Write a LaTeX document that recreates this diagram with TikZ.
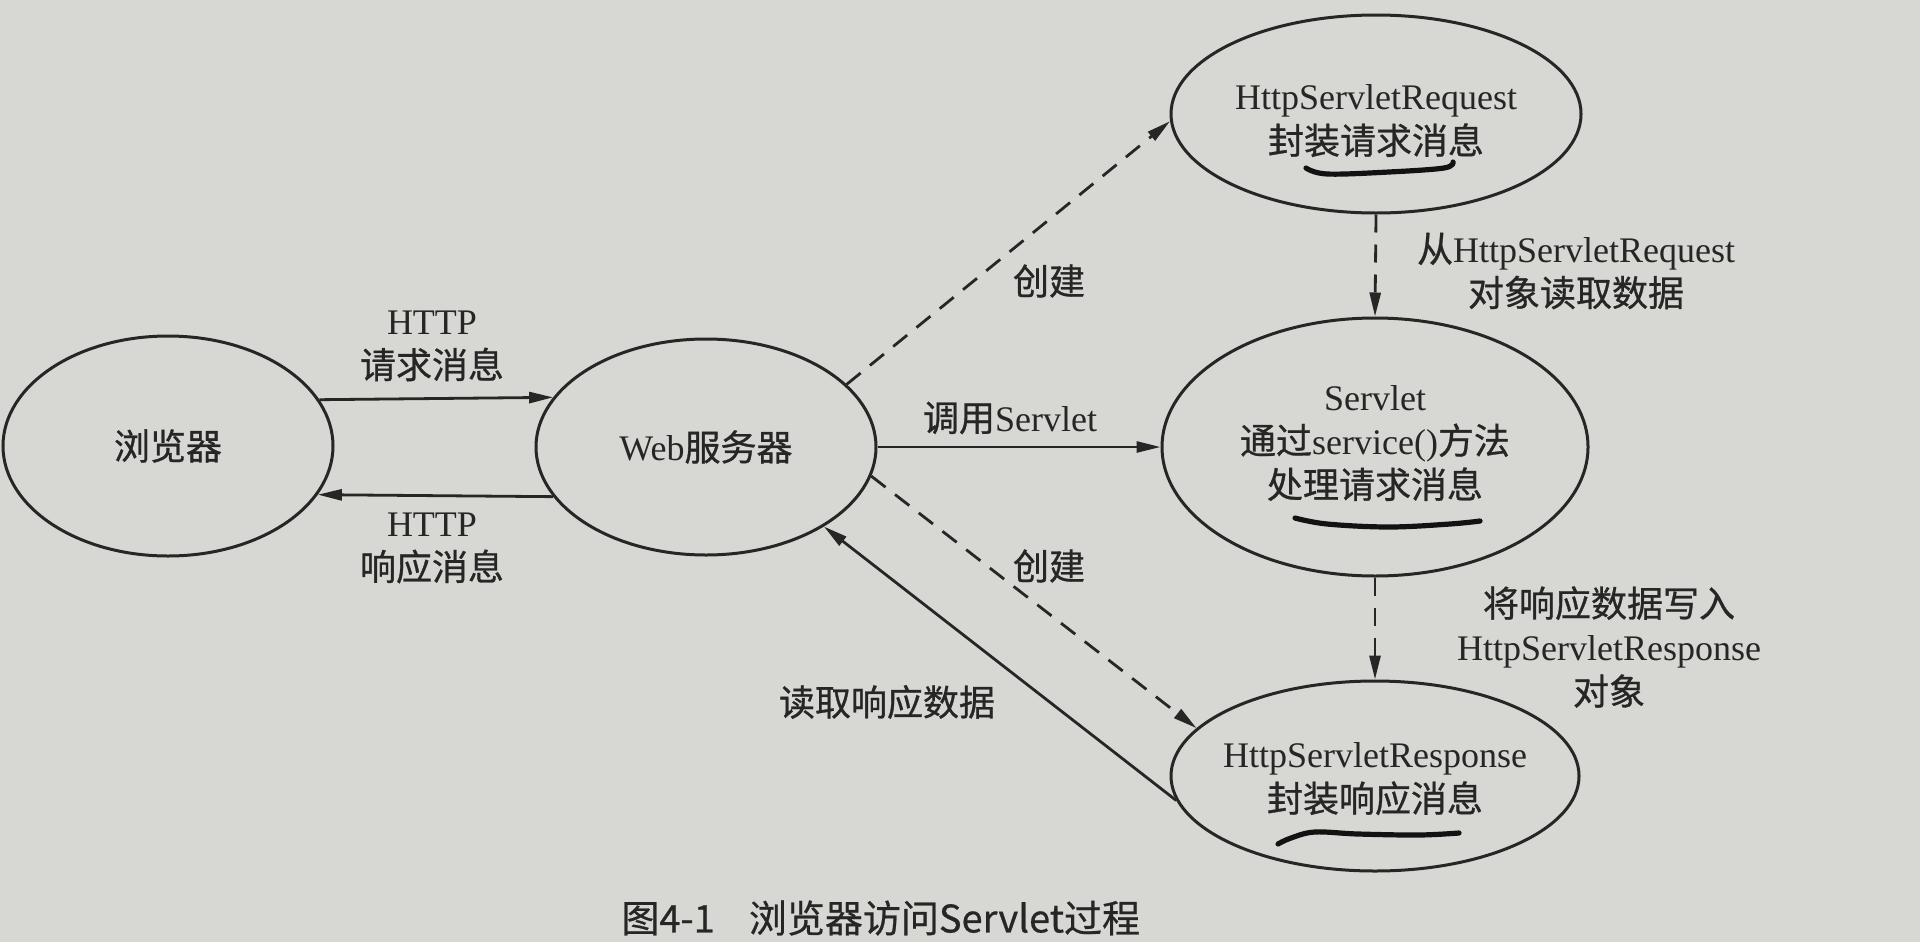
\documentclass[tikz,border=0pt]{standalone}
\usepackage{fontspec}
\setmainfont{Liberation Serif}
\newfontfamily\cjkfont[FakeBold=0.8]{Noto Sans CJK SC}
\newfontfamily\capfont[FakeBold=0.6]{Noto Sans CJK SC}
\newcommand\zh[1]{{\cjkfont #1}}
\usetikzlibrary{arrows.meta,shapes.geometric}
\definecolor{paper}{RGB}{215,215,211}
\definecolor{ink}{RGB}{38,38,38}
\definecolor{pen}{RGB}{18,18,18}
\begin{document}
\begin{tikzpicture}[x=0.5pt,y=-0.5pt,
  ell/.style={ellipse, draw=ink, line width=1.5pt, inner sep=0pt, align=center,
    text=ink, font=\fontsize{18pt}{22pt}\selectfont},
  lbl/.style={align=center, text=ink, inner sep=0pt, font=\fontsize{18pt}{22pt}\selectfont},
  arr/.style={draw=ink, line width=1.4pt, -{Triangle[length=12pt,width=5.5pt]}},
  dsh/.style={arr, dash pattern=on 9pt off 6pt},
  handmark/.style={draw=pen, line width=2.6pt, line cap=round, line join=round}
]
\useasboundingbox (0,0) rectangle (1920,942);
\fill[paper] (0,0) rectangle (1920,942);

% ellipses
\node[ell, minimum width=165pt, minimum height=110pt] (b) at (168,446) {\zh{浏览器}};
\node[ell, minimum width=170pt, minimum height=108pt] (w) at (706,447) {Web\zh{服务器}};
\node[ell, minimum width=205pt, minimum height=99pt,
  label={[lbl, yshift=-3.5pt]center:{HttpServletRequest\\\zh{封装请求消息}}}] (rq) at (1376,114) {};
\node[ell, minimum width=213pt, minimum height=129pt,
  label={[lbl, yshift=2pt]center:{Servlet\\\zh{通过}service()\zh{方法}\\\zh{处理请求消息}}}] (s) at (1375,447) {};
\node[ell, minimum width=204pt, minimum height=95pt,
  label={[lbl, yshift=-1.5pt]center:{HttpServletResponse\\\zh{封装响应消息}}}] (rp) at (1375,776) {};

% connectors
\draw[arr] (b.17.9) -- (w.162.1);
\draw[arr] (w.-162.1) -- (b.-18.7);
\draw[arr] (w.east) -- (s.west);
\draw[dsh] (w.24) -- (rq.182);
\draw[dsh] (w.-10.8) -- (rp.165.6);
\draw[arr] (rp.187.4) -- (w.-34.3);
\draw[dsh] (rq.south) -- (s.north);
\draw[dsh] (s.south) -- (rp.north);

% connector labels
\node[lbl] (l1) at (432,346) {HTTP\\\zh{请求消息}};
\node[lbl] (l2) at (432,548) {HTTP\\\zh{响应消息}};
\node[lbl] (l3) at (1010,418) {\zh{调用}Servlet};
\node[lbl] (l4) at (1049,281) {\zh{创建}};
\node[lbl] (l5) at (1049,566) {\zh{创建}};
\node[lbl] (l6) at (1576,271) {\zh{从}HttpServletRequest\\\zh{对象读取数据}};
\node[lbl] (l7) at (1609,647) {\zh{将响应数据写入}\\HttpServletResponse\\\zh{对象}};
\node[lbl] (l8) at (887,702) {\zh{读取响应数据}};

% caption
\node[anchor=west, inner sep=0pt, text=ink, font=\capfont\fontsize{19pt}{22pt}\selectfont]
  (cap) at (621,918) {图4-1\hspace{0.9em}浏览器访问Servlet过程};

% hand-drawn underlines
\draw[handmark] plot[smooth, tension=0.6] coordinates {(1306,168) (1327,174) (1389,172) (1444,168) (1453,162)};
\draw[handmark] plot[smooth, tension=0.6] coordinates {(1295,518) (1327,524) (1389,527) (1450,524) (1480,521)};
\draw[handmark] plot[smooth, tension=0.6] coordinates {(1278,844) (1291,838) (1315,832) (1358,834) (1419,835) (1459,833)};
\end{tikzpicture}
\end{document}
